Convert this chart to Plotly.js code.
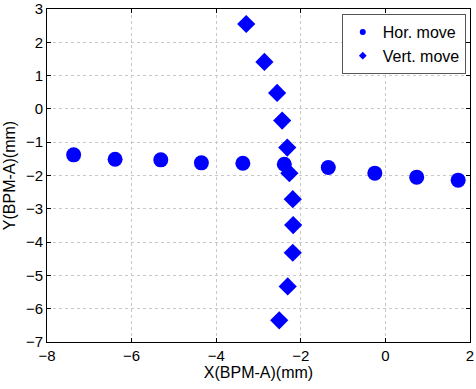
<!DOCTYPE html>
<html>
<head>
<script src="https://cdn.plot.ly/plotly-3.0.1.min.js"></script>
<style>html,body{margin:0;padding:0;background:#fff;}#chart{width:476px;height:389px;}</style>
</head>
<body>
<div id="chart"></div>
<script>
var horX = [-7.37, -6.39, -5.31, -4.35, -3.37, -2.39, -1.35, -0.25, 0.74, 1.72];
var horY = [-1.38, -1.51, -1.53, -1.62, -1.63, -1.66, -1.76, -1.93, -2.05, -2.14];
var vertX = [-3.29, -2.86, -2.56, -2.44, -2.32, -2.27, -2.19, -2.18, -2.19, -2.31, -2.51];
var vertY = [2.55, 1.41, 0.48, -0.35, -1.16, -1.93, -2.71, -3.49, -4.32, -5.33, -6.35];
var seriesNames = ["Hor. move", "Vert. move"];
var blue = "#0000ff";

var traces = [
  {x: horX, y: horY, mode: "markers", type: "scatter", showlegend: false,
   marker: {symbol: "circle", size: 15, color: blue}},
  {x: vertX, y: vertY, mode: "markers", type: "scatter", showlegend: false,
   marker: {symbol: "diamond", size: 14, color: blue}},
  {x: [null], y: [null], mode: "markers", type: "scatter", name: seriesNames[0],
   marker: {symbol: "circle", size: 6, color: blue}},
  {x: [null], y: [null], mode: "markers", type: "scatter", name: seriesNames[1],
   marker: {symbol: "diamond", size: 6, color: blue}}
];

var axisCommon = {
  showline: true, linecolor: "#000", linewidth: 1, mirror: "ticks",
  ticks: "inside", ticklen: 4, tickcolor: "#000",
  showgrid: true, gridcolor: "#c8c8c8", griddash: "dot", gridwidth: 1,
  zeroline: false,
  tickfont: {family: "Liberation Sans, Arial, sans-serif", size: 15, color: "#000"}
};

var layout = {
  width: 476, height: 389,
  margin: {l: 47, r: 6, t: 9, b: 47},
  paper_bgcolor: "#fff", plot_bgcolor: "#fff",
  font: {family: "Liberation Sans, Arial, sans-serif", color: "#000"},
  xaxis: Object.assign({}, axisCommon, {
    range: [-8, 2], dtick: 2, tick0: -8,
    title: {text: "X(BPM-A)(mm)", font: {size: 16}, standoff: 2}
  }),
  yaxis: Object.assign({}, axisCommon, {
    range: [-7, 3], dtick: 1, tick0: -7,
    title: {text: "Y(BPM-A)(mm)", font: {size: 16}, standoff: 6}
  }),
  legend: {
    x: 0.99, y: 0.985, xanchor: "right", yanchor: "top",
    bgcolor: "#fff", bordercolor: "#555", borderwidth: 1,
    font: {size: 16, color: "#000"}, itemsizing: "trace",
    itemwidth: 30, tracegroupgap: 0
  },
  showlegend: true
};

Plotly.newPlot("chart", traces, layout, {displayModeBar: false, staticPlot: true});
</script>
</body>
</html>
